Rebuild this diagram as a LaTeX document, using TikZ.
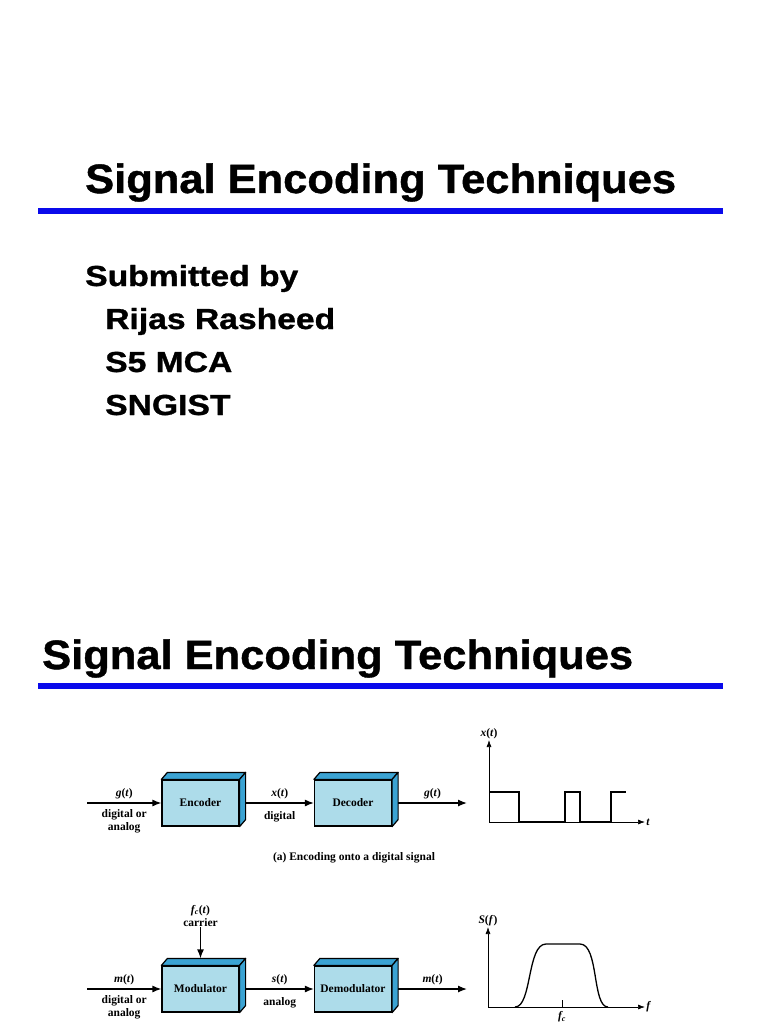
\documentclass[tikz,border=0pt]{standalone}
\usepackage{fontspec}
\setmainfont{Liberation Sans}
\newfontfamily\heavyfont[FakeBold=1.0]{Liberation Sans Bold}
\newfontfamily\figfont{Liberation Serif}
\usepackage{xcolor}
\usepackage{tikz}
\usetikzlibrary{arrows.meta,positioning}
\definecolor{ruleblue}{HTML}{0A0AEB}
\definecolor{boxfront}{HTML}{ADDCEA}
\definecolor{boxside}{HTML}{3BA3D3}
\tikzset{
  heading/.style={anchor=base west,inner sep=0pt,font=\heavyfont\fontsize{41}{41}\selectfont,xscale=1.06},
  byline/.style={anchor=base west,inner sep=0pt,font=\heavyfont\fontsize{29}{29}\selectfont,xscale=1.16},
  blockbox/.style={draw,line width=1.2pt,fill=boxfront,minimum width=77pt,minimum height=46pt,inner sep=0pt,font=\figfont\bfseries\fontsize{11.5}{13}\selectfont},
  lbl/.style={inner sep=1pt,align=center,font=\figfont\bfseries\fontsize{11.5}{13}\selectfont},
  flow/.style={line width=1.3pt,-{Latex[length=9pt,width=7pt]}},
  axis/.style={line width=0.7pt,-{Latex[length=7pt,width=5pt]}},
  trace/.style={line width=1.3pt,line join=miter},
}
% 3-D block: front face is the node, top and side faces drawn behind it
\newcommand{\block}[3]{%
  \node[blockbox] (#1) at (#2) {#3};
  \filldraw[fill=boxside,line width=1.2pt,line join=round]
    (#1.north west) -- ([shift={(6,-7)}]#1.north west) -- ([shift={(6,-7)}]#1.north east) -- (#1.north east) -- cycle;
  \filldraw[fill=boxside,line width=1.2pt,line join=round]
    (#1.north east) -- ([shift={(6,-7)}]#1.north east) -- ([shift={(6,-7)}]#1.south east) -- (#1.south east) -- cycle;}

\begin{document}
\begin{tikzpicture}[x=1pt,y=-1pt]
  \useasboundingbox[fill=white] (0,0) rectangle (768,1024);
  % first slide
  \node[heading] (title1) at (85,193) {Signal Encoding Techniques};
  \fill[ruleblue] (38,208) rectangle (723,214);
  \node[byline] (sub) at (85,286) {Submitted by};
  \node[byline] (author) at (105,329) {Rijas Rasheed};
  \node[byline] (sem) at (105,372) {S5 MCA};
  \node[byline] (college) at (105,415) {SNGIST};
  % second slide
  \node[heading] (title2) at (42,669) {Signal Encoding Techniques};
  \fill[ruleblue] (38,683) rectangle (723,689);

  % (a) encoding onto a digital signal
  \coordinate (ain) at (87,803);
  \block{enc}{200.5,803}{Encoder}
  \block{dec}{353,803}{Decoder}
  \coordinate (aout) at (467,803);
  \draw[flow] (ain) -- (enc)
    node[midway,above=2pt,lbl] {\textit{g}(\textit{t})}
    node[midway,below=5pt,lbl] {digital or\\analog};
  \draw[flow] ([xshift=6pt]enc.east) -- (dec)
    node[midway,above=2pt,lbl] {\textit{x}(\textit{t})}
    node[midway,below=7pt,lbl] {digital};
  \draw[flow] ([xshift=6pt]dec.east) -- (aout)
    node[midway,above=2pt,lbl] {\textit{g}(\textit{t})};
  \node[lbl] (capa) at (354,858) {(a) Encoding onto a digital signal};

  \coordinate (ao) at (489,822);
  \draw[axis] (ao) -- (645,822) node[right,lbl] (at) {\textit{t}};
  \draw[axis] (ao) -- (489,740) node[above,lbl] (ax) {\textit{x}(\textit{t})};
  \draw[trace] (489,792) -- (519,792) -- (519,822) -- (565,822) -- (565,792) -- (580,792)
    -- (580,822) -- (611,822) -- (611,792) -- (626,792);

  % (b) modulation onto an analog signal
  \coordinate (bin) at (87,989);
  \block{mod}{200.5,989}{Modulator}
  \block{demod}{353,989}{Demodulator}
  \coordinate (bout) at (467,989);
  \node[lbl] (carrier) at (200.5,915.5) {\textit{f\textsubscript{c}}(\textit{t})\\carrier};
  \draw[flow] (carrier) -- ([yshift=7pt]mod.north);
  \draw[flow] (bin) -- (mod)
    node[midway,above=2pt,lbl] {\textit{m}(\textit{t})}
    node[midway,below=5pt,lbl] {digital or\\analog};
  \draw[flow] ([xshift=6pt]mod.east) -- (demod)
    node[midway,above=2pt,lbl] {\textit{s}(\textit{t})}
    node[midway,below=7pt,lbl] {analog};
  \draw[flow] ([xshift=6pt]demod.east) -- (bout)
    node[midway,above=2pt,lbl] {\textit{m}(\textit{t})};

  \coordinate (bo) at (488,1007);
  \draw[axis] (bo) -- (645,1007) node[right,lbl] (bf) {\textit{f}};
  \draw[axis] (bo) -- (488,927) node[above,lbl] (bs) {\textit{S}(\textit{f})};
  \draw[trace,line join=round] (515,1007) .. controls (532,1007) and (527,944) .. (546,944)
    -- (580,944) .. controls (599,944) and (592,1007) .. (608,1007);
  \draw[line width=0.6pt] (562,1007) -- (562,1000) node[pos=0,below=3pt,lbl] (fc) {\textit{f\textsubscript{c}}};
\end{tikzpicture}
\end{document}
